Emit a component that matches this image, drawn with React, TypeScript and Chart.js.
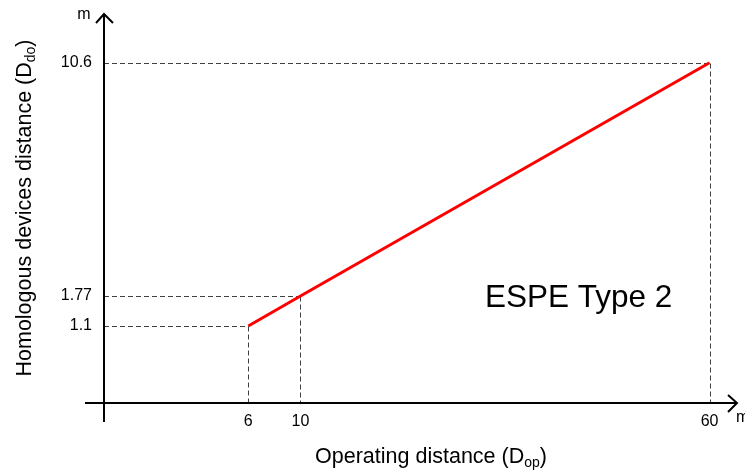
import React, { useEffect, useRef } from 'react';
import { Chart, registerables, LinearScale } from 'chart.js';

// ---- data ----
const operatingDistance = [6, 10, 60];
const homologousDistance = [1.1, 1.77, 10.6];
const xTickValues = [6, 10, 60];
const xTickLabels = ['6', '10', '60'];
const yTickValues = [1.1, 1.77, 10.6];
const yTickLabels = ['1.1', '1.77', '10.6'];
const seriesLabel = 'ESPE Type 2';
const xTitleMain = 'Operating distance (D';
const xTitleSub = 'op';
const yTitleMain = 'Homologous devices distance (D';
const yTitleSub = 'do';
const unitLabel = 'm';

// ---- schematic (non-proportional) axis layout: [value, fraction of axis length] ----
const xAxisStops: [number, number][] = [[0, 0], [6, 0.228], [10, 0.3104], [60, 0.9566]];
const yAxisStops: [number, number][] = [[0, 0], [1.1, 0.198], [1.77, 0.275], [10.6, 0.8748]];

function segIndex(stops: [number, number][], v: number, k: 0 | 1) {
  let i = 0;
  while (i < stops.length - 2 && v > stops[i + 1][k]) i++;
  return i;
}
function valueToFrac(stops: [number, number][], v: number) {
  const i = segIndex(stops, v, 0);
  const [v0, f0] = stops[i];
  const [v1, f1] = stops[i + 1];
  return f0 + ((v - v0) * (f1 - f0)) / (v1 - v0);
}
function fracToValue(stops: [number, number][], f: number) {
  const i = segIndex(stops, f, 1);
  const [v0, f0] = stops[i];
  const [v1, f1] = stops[i + 1];
  return v0 + ((f - f0) * (v1 - v0)) / (f1 - f0);
}

class SchematicScale extends LinearScale {
  static id = 'schematic';
  static defaults = (LinearScale as any).defaults;
  getPixelForValue(value: number) {
    if (value === null || value === undefined || isNaN(value)) return NaN;
    const stops = (this.options as any).stops as [number, number][];
    const f = valueToFrac(stops, value);
    return this.isHorizontal() ? this.left + f * this.width : this.bottom - f * this.height;
  }
  getValueForPixel(pixel: number) {
    const stops = (this.options as any).stops as [number, number][];
    const f = this.isHorizontal() ? (pixel - this.left) / this.width : (this.bottom - pixel) / this.height;
    return fracToValue(stops, f);
  }
}

Chart.register(...registerables, SchematicScale as any);

const FONT = '"Liberation Sans", Arial, Helvetica, sans-serif';

function drawSubText(ctx: CanvasRenderingContext2D, main: string, sub: string, cx: number, cy: number, size: number) {
  const subSize = Math.round(size * 0.66);
  ctx.font = `${size}px ${FONT}`;
  const wMain = ctx.measureText(main).width;
  const wClose = ctx.measureText(')').width;
  ctx.font = `${subSize}px ${FONT}`;
  const wSub = ctx.measureText(sub).width;
  const total = wMain + wSub + wClose;
  let x = cx - total / 2;
  const baseline = cy + size * 0.36;
  ctx.textAlign = 'left';
  ctx.textBaseline = 'alphabetic';
  ctx.font = `${size}px ${FONT}`;
  ctx.fillText(main, x, baseline);
  x += wMain;
  ctx.font = `${subSize}px ${FONT}`;
  ctx.fillText(sub, x, baseline + size * 0.2);
  x += wSub;
  ctx.font = `${size}px ${FONT}`;
  ctx.fillText(')', x, baseline);
}

const decorPlugin = {
  id: 'decor',
  beforeDatasetsDraw(chart: any) {
    const ctx: CanvasRenderingContext2D = chart.ctx;
    const xs = chart.scales.x;
    const ys = chart.scales.y;
    const ox = xs.getPixelForValue(0);
    const oy = ys.getPixelForValue(0);
    const area = chart.chartArea;

    ctx.save();
    // dashed guide lines
    ctx.strokeStyle = '#404040';
    ctx.lineWidth = 1;
    ctx.setLineDash([5, 3]);
    operatingDistance.forEach((xv, i) => {
      const px = Math.round(xs.getPixelForValue(xv)) + 0.5;
      const py = Math.round(ys.getPixelForValue(homologousDistance[i])) + 0.5;
      ctx.beginPath();
      ctx.moveTo(ox, py);
      ctx.lineTo(px, py);
      ctx.moveTo(px, py);
      ctx.lineTo(px, oy);
      ctx.stroke();
    });
    ctx.setLineDash([]);

    // axes with arrows
    ctx.strokeStyle = '#000';
    ctx.lineWidth = 2;
    ctx.lineCap = 'butt';
    ctx.beginPath();
    ctx.moveTo(ox - 19, oy);
    ctx.lineTo(area.right, oy);
    ctx.moveTo(ox, oy + 19);
    ctx.lineTo(ox, area.top);
    ctx.stroke();
    ctx.beginPath();
    ctx.moveTo(area.right - 9, oy - 8);
    ctx.lineTo(area.right, oy);
    ctx.lineTo(area.right - 9, oy + 9);
    ctx.moveTo(ox - 8, area.top + 9);
    ctx.lineTo(ox, area.top);
    ctx.lineTo(ox + 9, area.top + 9);
    ctx.stroke();

    // tick labels
    ctx.fillStyle = '#000';
    ctx.font = `16px ${FONT}`;
    ctx.textAlign = 'center';
    ctx.textBaseline = 'middle';
    xTickValues.forEach((v, i) => {
      ctx.fillText(xTickLabels[i], xs.getPixelForValue(v), oy + 19);
    });
    ctx.textAlign = 'right';
    yTickValues.forEach((v, i) => {
      ctx.fillText(yTickLabels[i], ox - 12, ys.getPixelForValue(v));
    });

    // unit labels
    ctx.textAlign = 'center';
    ctx.fillText(unitLabel, ox - 20, area.top + 1);
    ctx.textAlign = 'left';
    ctx.fillText(unitLabel, area.right - 1, oy + 15);

    // axis titles
    drawSubText(ctx, xTitleMain, xTitleSub, 431, 455, 21.5);
    ctx.save();
    ctx.translate(23, 208);
    ctx.rotate(-Math.PI / 2);
    drawSubText(ctx, yTitleMain, yTitleSub, 0, 0, 21.5);
    ctx.restore();

    // series annotation
    ctx.font = `31.5px ${FONT}`;
    ctx.textAlign = 'left';
    ctx.textBaseline = 'middle';
    ctx.fillText(seriesLabel, 485, 298);
    ctx.restore();
  },
};

export default function App() {
  const canvasRef = useRef<HTMLCanvasElement>(null);

  useEffect(() => {
    if (!canvasRef.current) return;
    const chart = new Chart(canvasRef.current, {
      type: 'line',
      data: {
        datasets: [
          {
            label: seriesLabel,
            data: operatingDistance.map((x, i) => ({ x, y: homologousDistance[i] })),
            borderColor: '#ff0000',
            backgroundColor: '#ff0000',
            borderWidth: 3,
            pointRadius: 0,
            tension: 0,
            fill: false,
          },
        ],
      },
      options: {
        animation: false,
        responsive: true,
        maintainAspectRatio: false,
        layout: { padding: { left: 104, top: 14, right: 8, bottom: 68 } },
        plugins: { legend: { display: false }, tooltip: { enabled: false } },
        scales: {
          x: { type: 'schematic' as any, display: false, min: 0, max: 63.3, stops: xAxisStops } as any,
          y: { type: 'schematic' as any, display: false, min: 0, max: 12.4, stops: yAxisStops } as any,
        },
      },
      plugins: [decorPlugin],
    });
    return () => chart.destroy();
  }, []);

  return (
    <div style={{ position: 'absolute', left: 0, top: 0, width: 745, height: 471, background: '#fff' }}>
      <canvas ref={canvasRef} />
    </div>
  );
}
